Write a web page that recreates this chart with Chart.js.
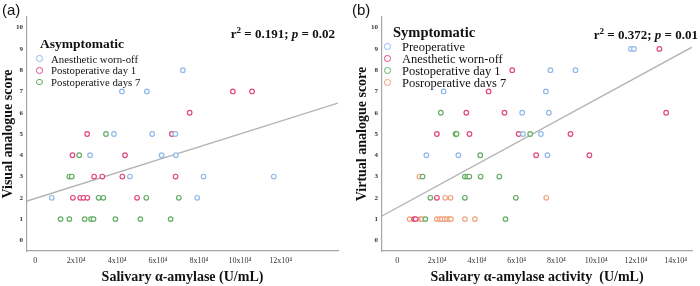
<!DOCTYPE html>
<html lang="en">
<head>
<meta charset="UTF-8">
<title>Salivary amylase vs pain score</title>
<script src="https://cdn.jsdelivr.net/npm/chart.js"></script>
<style>
    body { margin: 0; background: #fff; }
    .wrap { position: relative; width: 700px; height: 286px; font-family: 'Liberation Serif', 'Times New Roman', serif; color: #111; }
    canvas { position: absolute; top: 0; }
    #chartA { left: 0; }
    #chartB { left: 350px; }
    .panel { position: absolute; top: 1px; font-family: 'Liberation Sans', Arial, sans-serif; font-size: 15px; line-height: 17px; }
    .stat { position: absolute; font-weight: bold; font-size: 13px; line-height: 15px; white-space: nowrap; }
    .stat sup { font-size: 9px; line-height: 0; }
    .lg { position: absolute; white-space: nowrap; }
    .dot { position: absolute; border-radius: 50%; border: 1.3px solid; background: #fff; }
</style>
</head>
<body>
<div class="wrap" id="wrap">
    <canvas id="chartA" width="350" height="286"></canvas>
    <canvas id="chartB" width="350" height="286"></canvas>
    <div class="panel" style="left:2px">(a)</div>
    <div class="panel" style="left:352px">(b)</div>
    <div class="stat" style="right:365px; top:26px">r<sup>2</sup> = 0.191; <i>p</i> = 0.02</div>
    <div class="stat" style="right:2px; top:27px">r<sup>2</sup> = 0.372; <i>p</i> = 0.01</div>
</div>

<script>
    // x values are in units of 10^4 U/mL, y is the pain score
    const xTicksA = [0, 2, 4, 6, 8, 10, 12];
    const xTicksB = [0, 2, 4, 6, 8, 10, 12, 14];
    const yTicks = [0, 1, 2, 3, 4, 5, 6, 7, 8, 9, 10];

    // (a) Asymptomatic
    const namesA = ['Anesthetic worn-off', 'Postoperative day 1', 'Postoperative days 7'];
    const aWornOff = [[7.22, 8], [4.24, 7], [5.46, 7], [3.85, 5], [5.72, 5], [6.85, 5], [2.68, 4], [6.18, 4], [6.88, 4],
        [4.63, 3], [8.23, 3], [11.66, 3], [0.81, 2], [7.92, 2]];
    const aDay1 = [[9.66, 7], [10.6, 7], [7.55, 6], [2.54, 5], [6.68, 5], [1.82, 4], [4.39, 4], [2.88, 3], [3.28, 3],
        [4.26, 3], [6.86, 3], [1.84, 2], [2.2, 2], [2.36, 2], [2.55, 2], [4.98, 2]];
    const aDay7 = [[3.46, 5], [2.15, 4], [1.67, 3], [1.79, 3], [3.1, 2], [3.33, 2], [5.43, 2], [7.02, 2], [1.24, 1],
        [1.67, 1], [2.42, 1], [2.73, 1], [2.85, 1], [3.92, 1], [5.14, 1], [6.62, 1]];
    const fitA = { intercept: 1.97, slope: 0.303 };

    // (b) Symptomatic
    const namesB = ['Preoperative', 'Anesthetic worn-off', 'Postoperative day 1', 'Posroperative davs 7'];
    const bPreop = [[11.75, 9], [11.9, 9], [7.7, 8], [8.96, 8], [2.33, 7], [7.47, 7], [6.28, 6], [7.62, 6], [6.32, 5],
        [7.22, 5], [1.46, 4], [3.07, 4], [7.55, 4]];
    const bWornOff = [[13.18, 9], [5.78, 8], [4.59, 7], [3.47, 6], [5.39, 6], [13.52, 6], [1.99, 5], [3.63, 5], [6.1, 5],
        [8.71, 5], [6.98, 4], [9.66, 4], [1.99, 2], [0.85, 1], [0.92, 1]];
    const bDay1 = [[2.19, 6], [2.93, 5], [2.98, 5], [6.68, 5], [4.17, 4], [1.27, 3], [3.4, 3], [3.52, 3], [3.62, 3],
        [4.19, 3], [5.13, 3], [1.66, 2], [3.4, 2], [5.96, 2], [1.41, 1], [5.44, 1]];
    const bDay7 = [[1.11, 3], [2.41, 2], [2.68, 2], [7.49, 2], [0.62, 1], [1.16, 1], [1.24, 1], [1.99, 1], [2.13, 1],
        [2.24, 1], [2.38, 1], [2.5, 1], [2.63, 1], [2.7, 1], [3.4, 1], [3.9, 1]];
    const fitB = { intercept: 1.54, slope: 0.509 };

    const BLUE = '#8fb9ea';
    const RED = '#e0487c';
    const GREEN = '#62ad62';
    const ORANGE = '#f2a27a';
    const SERIF = "'Liberation Serif', 'Times New Roman', serif";

    function scatterSet(label, pts, color) {
        return {
            type: 'scatter',
            label: label,
            data: pts.map(p => ({ x: p[0], y: p[1] })),
            borderColor: color,
            backgroundColor: '#fff',
            pointRadius: 2.3,
            pointBorderWidth: 1.2,
            order: 1
        };
    }

    function fitSet(fit, xmin, xmax) {
        return {
            type: 'line',
            label: 'fit',
            data: [xmin, xmax].map(x => ({ x: x, y: fit.intercept + fit.slope * x })),
            borderColor: '#b3b3b3',
            borderWidth: 1.3,
            pointRadius: 0,
            order: 10
        };
    }

    function makeChart(id, cfg) {
        return new Chart(document.getElementById(id), {
            type: 'scatter',
            data: { datasets: cfg.datasets.concat([fitSet(cfg.fit, cfg.xmin, cfg.xmax)]) },
            options: {
                responsive: false,
                animation: false,
                events: [],
                layout: { padding: { top: 17, right: cfg.padRight, left: 0, bottom: 0 } },
                plugins: { legend: { display: false }, tooltip: { enabled: false } },
                scales: {
                    x: {
                        type: 'linear',
                        min: cfg.xmin,
                        max: cfg.xmax,
                        afterBuildTicks: axis => { axis.ticks = cfg.xTicks.map(v => ({ value: v })); },
                        afterFit: axis => { axis.height = 35; },
                        grid: { display: false, drawTicks: false },
                        border: { display: true, color: '#a6a6a6', width: 1.2 },
                        ticks: {
                            padding: 5,
                            maxRotation: 0,
                            color: '#333',
                            font: { family: SERIF, size: 8 },
                            callback: v => v === 0 ? '0' : v + 'x10\u2074'
                        },
                        title: {
                            display: true,
                            text: cfg.xTitle,
                            color: '#111',
                            padding: 0,
                            font: { family: SERIF, size: 14, weight: 'bold', lineHeight: 1.2 }
                        }
                    },
                    y: {
                        min: -0.5,
                        max: 10.5,
                        afterBuildTicks: axis => { axis.ticks = yTicks.map(v => ({ value: v })); },
                        afterFit: axis => { axis.width = cfg.yWidth; },
                        grid: { display: false, drawTicks: false },
                        border: { display: true, color: '#a6a6a6', width: 1.2 },
                        ticks: {
                            padding: 4,
                            color: '#333',
                            font: { family: SERIF, size: 7, weight: 'bold' }
                        },
                        title: {
                            display: true,
                            text: cfg.yTitle,
                            color: '#111',
                            padding: { top: cfg.yTitlePad, bottom: 0 },
                            font: { family: SERIF, size: 14, weight: 'bold', lineHeight: 1.2 }
                        }
                    }
                }
            }
        });
    }

    makeChart('chartA', {
        datasets: [
            scatterSet(namesA[0], aWornOff, BLUE),
            scatterSet(namesA[1], aDay1, RED),
            scatterSet(namesA[2], aDay7, GREEN)
        ],
        fit: fitA, xmin: -0.4, xmax: 14.8, xTicks: xTicksA,
        padRight: 12, yWidth: 27, yTitlePad: 0,
        xTitle: 'Salivary \u03b1-amylase (U/mL)',
        yTitle: 'Visual analogue score'
    });

    makeChart('chartB', {
        datasets: [
            scatterSet(namesB[0], bPreop, BLUE),
            scatterSet(namesB[1], bWornOff, RED),
            scatterSet(namesB[2], bDay1, GREEN),
            scatterSet(namesB[3], bDay7, ORANGE)
        ],
        fit: fitB, xmin: -0.77, xmax: 14.82, xTicks: xTicksB,
        padRight: 8, yWidth: 32, yTitlePad: 4,
        xTitle: 'Salivary \u03b1-amylase activity  (U/mL)',
        yTitle: 'Virtual analogue score'
    });

    // legends drawn inside the plots as plain text
    const wrap = document.getElementById('wrap');
    function addText(text, x, yc, size, bold) {
        const d = document.createElement('div');
        d.className = 'lg';
        d.textContent = text;
        d.style.left = x + 'px';
        d.style.top = (yc - size * 0.6) + 'px';
        d.style.fontSize = size + 'px';
        d.style.lineHeight = (size * 1.2) + 'px';
        if (bold) d.style.fontWeight = 'bold';
        wrap.appendChild(d);
    }
    function addDot(cx, cy, color) {
        const d = document.createElement('div');
        d.className = 'dot';
        d.style.left = (cx - 3.6) + 'px';
        d.style.top = (cy - 3.6) + 'px';
        d.style.width = '4.6px';
        d.style.height = '4.6px';
        d.style.borderColor = color;
        wrap.appendChild(d);
    }
    function legend(title, names, colors, x, yTitle, dotX, textX, rowY, step, size, titleSize) {
        addText(title, x, yTitle, titleSize, true);
        names.forEach((n, i) => {
            addDot(dotX, rowY + i * step, colors[i]);
            addText(n, textX, rowY + i * step, size, false);
        });
    }
    legend('Asymptomatic', namesA, [BLUE, RED, GREEN], 40, 44, 40, 51, 59, 11.6, 10.8, 13.5);
    legend('Symptomatic', namesB, [BLUE, RED, GREEN, ORANGE], 393, 33, 388, 402, 47, 12, 12.5, 14.5);
</script>
</body>
</html>
